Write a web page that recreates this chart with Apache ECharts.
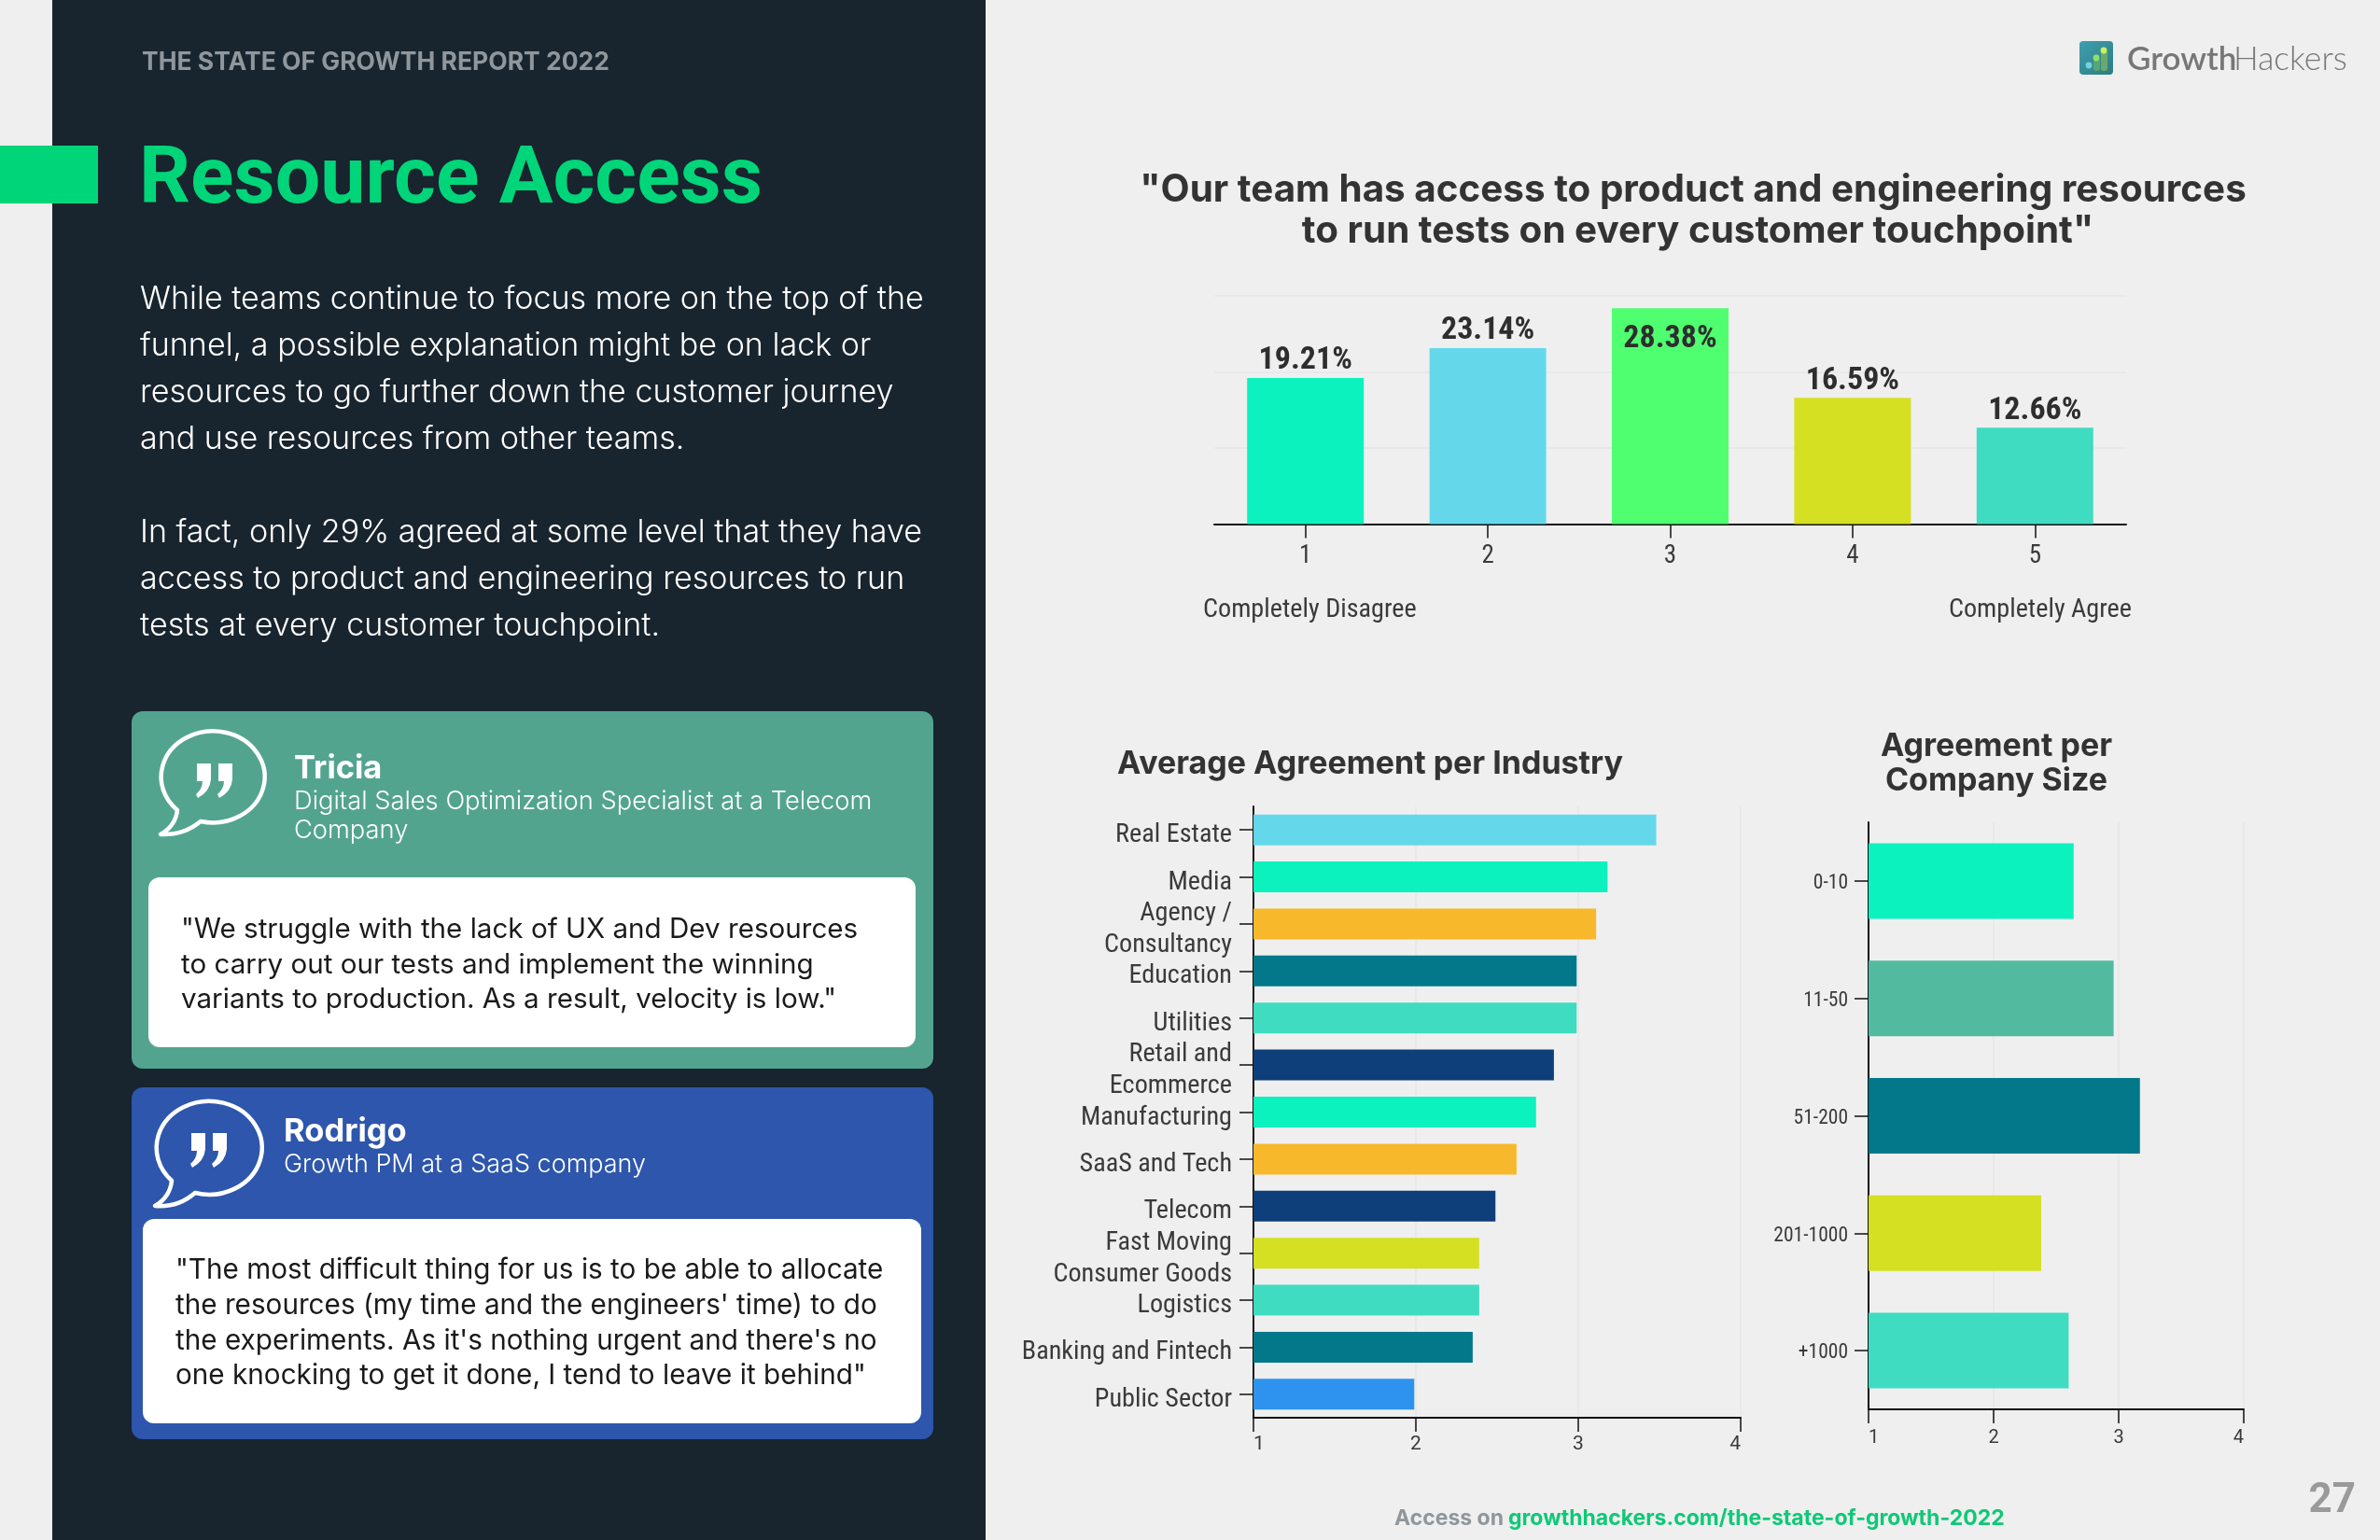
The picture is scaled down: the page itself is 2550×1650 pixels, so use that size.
<!DOCTYPE html>
<html>
<head>
<meta charset="utf-8">
<title>Resource Access</title>
<style>
  html, body { margin: 0; padding: 0; background: #efefef; }
  #main { width: 2550px; height: 1650px; }
</style>
</head>
<body>
<div id="main"></div>
<script src="https://cdn.jsdelivr.net/npm/echarts@6/dist/echarts.min.js"></script>
<script>
// data
var scaleLabels = ['1', '2', '3', '4', '5'];
var scaleValues = [19.21, 23.14, 28.38, 16.59, 12.66];

var industries = ['Real Estate', 'Media', 'Agency /\nConsultancy', 'Education', 'Utilities',
  'Retail and\nEcommerce', 'Manufacturing', 'SaaS and Tech', 'Telecom',
  'Fast Moving\nConsumer Goods', 'Logistics', 'Banking and Fintech', 'Public Sector'];
var industryValues = [3.48, 3.18, 3.11, 2.99, 2.99, 2.85, 2.74, 2.62, 2.49, 2.39, 2.39, 2.35, 1.99];

var companySizes = ['0-10', '11-50', '51-200', '201-1000', '+1000'];
var companyValues = [2.64, 2.96, 3.17, 2.38, 2.60];

var scaleColors = ['#0cf2bf', '#64d8ea', '#50ff70', '#d4e021', '#3fdcc1'];
var industryColors = ['#64d8ea', '#0cf2bf', '#f7b92b', '#02788a', '#3fdcc1', '#0e3f7a', '#0cf2bf',
  '#f7b92b', '#0e3f7a', '#d4e021', '#3fdcc1', '#02788a', '#2e93ee'];
var companyColors = ['#0cf2bf', '#52bb9f', '#02788a', '#d4e021', '#3fdcc1'];

var bodyLines1 = ['While teams continue to focus more on the top of the',
  'funnel, a possible explanation might be on lack or',
  'resources to go further down the customer journey',
  'and use resources from other teams.'];
var bodyLines2 = ['In fact, only 29% agreed at some level that they have',
  'access to product and engineering resources to run',
  'tests at every customer touchpoint.'];
var quote1 = ['"We struggle with the lack of UX and Dev resources',
  'to carry out our tests and implement the winning',
  'variants to production. As a result, velocity is low."'];
var quote2 = ['"The most difficult thing for us is to be able to allocate',
  'the resources (my time and the engineers\' time) to do',
  'the experiments. As it\'s nothing urgent and there\'s no',
  'one knocking to get it done, I tend to leave it behind"'];

var HEAD = 'Inter';
var NARROW = '"Roboto Condensed", Roboto';
// the weight goes straight into the canvas font string, so a stretch keyword can ride along
var NARROW_W = 'condensed 400';
var NARROW_B = 'condensed 700';
var SEMI_W = 'semi-condensed 400';
var INK = '#3a3a3a';

// y is the text baseline
function txt(s, x, y, size, weight, color, family, align) {
  return {
    type: 'text', silent: true,
    style: {
      text: s, x: x, y: y - size * 0.26,
      fontSize: size, fontWeight: weight, fontFamily: family || 'Inter',
      fill: color, textAlign: align || 'left', textVerticalAlign: 'middle'
    }
  };
}
function lines(arr, x, y, step, size, weight, color, family, align) {
  return arr.map(function (s, i) {
    return txt(s, x, y + i * step, size, weight, color, family, align);
  });
}
function box(x, y, w, h, r, color) {
  return { type: 'rect', silent: true, shape: { x: x, y: y, width: w, height: h, r: r }, style: { fill: color } };
}

var graphics = [
  box(56, 0, 1000, 1650, 0, '#18242e'),
  box(0, 156, 105, 62, 0, '#00d679'),
  box(141, 762, 859, 383, 12, '#53a48f'),
  box(159, 940, 822, 182, 12, '#ffffff'),
  box(141, 1165, 859, 377, 12, '#2d56ac'),
  box(153, 1306, 834, 219, 12, '#ffffff'),
  txt('THE STATE OF GROWTH REPORT 2022', 152, 74, 26.5, 700, '#8f979d', HEAD),
  txt('Resource Access', 149, 218, 86, 700, '#00d679', 'Roboto'),
  txt('Tricia', 315, 833, 34.5, 700, '#ffffff'),
  txt('Rodrigo', 304, 1222, 34.5, 700, '#ffffff'),
  txt('Digital Sales Optimization Specialist at a Telecom', 315, 865.5, 27.3, 300, '#ffffff'),
  txt('Company', 315, 896.5, 27.3, 300, '#ffffff'),
  txt('Growth PM at a SaaS company', 304, 1255, 27, 300, '#ffffff'),
  txt('"Our team has access to product and engineering resources', 1814, 214.5, 40.4, 700, '#333333', HEAD, 'center'),
  txt('to run tests on every customer touchpoint"', 1819, 258.5, 40.4, 700, '#333333', HEAD, 'center'),
  txt('Average Agreement per Industry', 1468, 828, 34, 700, '#333333', HEAD, 'center'),
  txt('Agreement per', 2139, 809, 34, 700, '#333333', HEAD, 'center'),
  txt('Company Size', 2139, 846, 34, 700, '#333333', HEAD, 'center'),
  txt('Completely Disagree', 1289, 661, 28.2, NARROW_W, INK, NARROW),
  txt('Completely Agree', 2284, 661, 28.2, NARROW_W, INK, NARROW, 'right'),
  txt('Access on', 1494, 1633, 23, 700, '#8f979d', HEAD),
  txt('growthhackers.com/the-state-of-growth-2022', 1616, 1633, 23, 700, '#0fc878', HEAD),
  txt('27', 2524, 1620, 44, 700, '#9a9a9a', 'Roboto', 'right'),
  // logo
  {
    type: 'rect', silent: true, shape: { x: 2228, y: 44, width: 36, height: 36, r: 4 },
    style: { fill: { type: 'linear', x: 0, y: 0, x2: 1, y2: 1, colorStops: [{ offset: 0, color: '#3d9fae' }, { offset: 1, color: '#2f7c80' }] } }
  },
  { type: 'circle', silent: true, shape: { cx: 2238, cy: 70, r: 3.4 }, style: { fill: '#6fd3e0' } },
  box(2243, 62, 7, 14, 3, '#5aa574'),
  { type: 'circle', silent: true, shape: { cx: 2246, cy: 62, r: 3.4 }, style: { fill: '#8fe06a' } },
  box(2251, 53, 7, 23, 3, '#6ba870'),
  { type: 'circle', silent: true, shape: { cx: 2254, cy: 54, r: 3.4 }, style: { fill: '#c8f060' } },
  txt('Growth', 2279, 73, 35, 600, '#777777', 'Lato'),
  txt('Hackers', 2393, 73, 35.5, 300, '#777777', 'Lato')
].concat(
  lines(bodyLines1, 150, 330, 50, 34.1, 300, '#ffffff', HEAD),
  lines(bodyLines2, 150, 580, 50, 34.1, 300, '#ffffff', HEAD),
  lines(quote1, 194, 1004, 37.5, 29.6, 400, '#1a1a1a'),
  lines(quote2, 188, 1369, 37.7, 29.7, 400, '#1a1a1a')
);

function comma(x, y) {
  return 'M' + (x + 2) + ' ' + y + 'L' + (x + 17) + ' ' + y + 'L' + (x + 17) + ' ' + (y + 17)
    + 'Q' + (x + 16) + ' ' + (y + 30) + ' ' + (x + 3) + ' ' + (y + 37)
    + 'L' + (x + 1) + ' ' + (y + 33) + 'Q' + (x + 8) + ' ' + (y + 27) + ' ' + (x + 8) + ' ' + (y + 19)
    + 'L' + (x + 2) + ' ' + (y + 19) + 'Z';
}
function pathEl(d, stroke) {
  return {
    type: 'path',
    shape: { pathData: d },
    style: stroke
      ? { fill: 'none', stroke: '#ffffff', lineWidth: 4.5, lineJoin: 'round' }
      : { fill: '#ffffff' }
  };
}
var bubble1 = 'M215 880A55.5 49 0 1 0 190 868Q188 885 172 894Q197 895 215 880Z';
var bubble2 = 'M209 1278A56.5 50 0 1 0 184 1265Q182 1283 166 1292Q191 1294 209 1278Z';

function axisText(size, family, weight) {
  return { fontSize: size, fontFamily: family, fontWeight: weight || 400, color: INK };
}
// category labels sit a little under their tick; top padding moves each line down by half of it
function loweredLabels(size, family, weight, lineHeight, drop) {
  return {
    formatter: function (value) {
      return value.split('\n').map(function (part) {
        return '{low|' + part + '}';
      }).join('\n');
    },
    rich: {
      low: Object.assign(axisText(size, family, weight), { lineHeight: lineHeight, padding: [drop, 0, 0, 0] })
    }
  };
}
var blackLine = { show: true, lineStyle: { color: '#111111', width: 2 } };
var softGrid = { show: true, lineStyle: { color: '#e7e7e7', width: 1.5 } };

var myChart = echarts.init(document.getElementById('main'));
myChart.setOption({
  animation: false,
  backgroundColor: '#efefef',
  graphic: { elements: graphics },
  grid: [
    { left: 1301, right: 272, top: 317, bottom: 1088.5 },
    { left: 1343, right: 685, top: 864, bottom: 131 },
    { left: 2002, right: 146, top: 881, bottom: 140 }
  ],
  xAxis: [
    {
      gridIndex: 0, type: 'category', data: scaleLabels,
      axisLine: blackLine,
      axisTick: { show: true, alignWithLabel: true, length: 15, lineStyle: { color: '#111111', width: 1.5 } },
      axisLabel: Object.assign(axisText(27, NARROW, NARROW_W), { margin: 21 })
    },
    {
      gridIndex: 1, type: 'value', min: 1, max: 4, interval: 1,
      axisLine: blackLine, splitLine: softGrid,
      axisTick: { show: true, length: 15, lineStyle: { color: '#111111', width: 1.5 } },
      axisLabel: Object.assign(axisText(21, 'Roboto'), { margin: 18, alignMinLabel: 'left', alignMaxLabel: 'right' })
    },
    {
      gridIndex: 2, type: 'value', min: 1, max: 4, interval: 1,
      axisLine: blackLine, splitLine: softGrid,
      axisTick: { show: true, length: 15, lineStyle: { color: '#111111', width: 1.5 } },
      axisLabel: Object.assign(axisText(20, 'Roboto'), { margin: 21, alignMinLabel: 'left', alignMaxLabel: 'right' })
    }
  ],
  yAxis: [
    {
      gridIndex: 0, type: 'value', min: 0, max: 30, interval: 10,
      axisLine: { show: false }, axisTick: { show: false }, axisLabel: { show: false },
      splitLine: softGrid
    },
    {
      gridIndex: 1, type: 'category', data: industries, inverse: true,
      axisLine: blackLine,
      axisTick: { show: true, alignWithLabel: true, length: 15, lineStyle: { color: '#111111', width: 1.5 } },
      axisLabel: Object.assign({ margin: 23 }, loweredLabels(28.2, NARROW, NARROW_W, 34, 12))
    },
    {
      gridIndex: 2, type: 'category', data: companySizes, inverse: true,
      axisLine: blackLine,
      axisTick: { show: true, alignWithLabel: true, length: 15, lineStyle: { color: '#111111', width: 1.5 } },
      axisLabel: Object.assign({ margin: 22 }, loweredLabels(21.5, 'Roboto', SEMI_W, 26, 6))
    }
  ],
  series: [
    {
      type: 'bar', xAxisIndex: 0, yAxisIndex: 0, barWidth: 125,
      data: scaleValues.map(function (v, i) {
        return {
          value: v,
          itemStyle: { color: scaleColors[i] },
          label: v === Math.max.apply(null, scaleValues) ? { position: 'insideTop', distance: 16 } : {}
        };
      }),
      label: {
        show: true, position: 'top', distance: 1, formatter: '{c}%',
        fontSize: 34, fontWeight: NARROW_B, fontFamily: NARROW, color: '#2e2e2e'
      }
    },
    {
      type: 'bar', xAxisIndex: 1, yAxisIndex: 1, barWidth: 33,
      data: industryValues.map(function (v, i) {
        return { value: v, itemStyle: { color: industryColors[i] } };
      })
    },
    {
      type: 'bar', xAxisIndex: 2, yAxisIndex: 2, barWidth: 81,
      data: companyValues.map(function (v, i) {
        return { value: v, itemStyle: { color: companyColors[i] } };
      })
    },
    {
      // speech bubbles of the two quote cards
      type: 'custom', coordinateSystem: 'none', silent: true, z: 20, data: [0],
      renderItem: function () {
        return {
          type: 'group',
          children: [
            pathEl(bubble1, true), pathEl(comma(209, 818)), pathEl(comma(232, 818)),
            pathEl(bubble2, true), pathEl(comma(203, 1214)), pathEl(comma(226, 1214))
          ]
        };
      }
    }
  ]
});
</script>
</body>
</html>
